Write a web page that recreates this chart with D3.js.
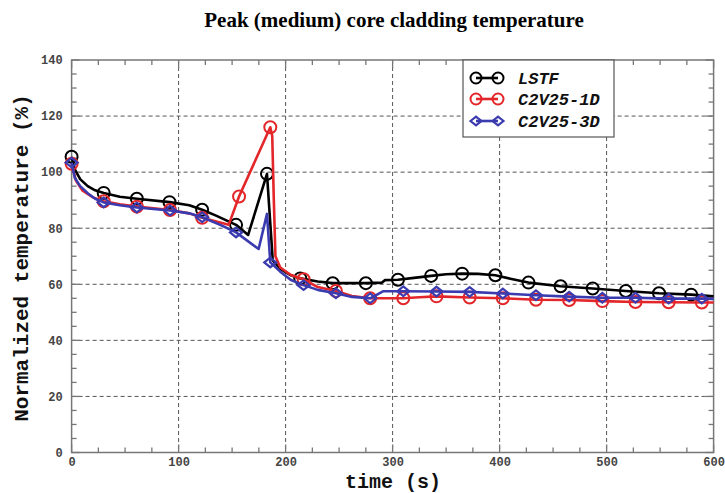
<!DOCTYPE html>
<html><head><meta charset="utf-8">
<script src="https://cdn.jsdelivr.net/npm/d3@7"></script>
<style>body{margin:0;background:#fff}</style>
</head><body>
<svg id="c" width="725" height="493"></svg>
<script>
const xTicks = [0,100,200,300,400,500,600];
const yTicks = [0,20,40,60,80,100,120,140];
const seriesNames = ["LSTF","C2V25-1D","C2V25-3D"];
const seriesColors = ["#000000","#e3262a","#3b3bb0"];
const seriesMarkers = ["circle","circle","diamond"];

const lstfLine = [[0,105.5],[3,101],[8,97.5],[15,95],[22,93.5],[30,92.6],[45,91.2],[61,90.5],[91.5,89.3],[110,88.2],[122,86.6],[135,84.5],[153.7,81.2],[165,77.6],[182.6,99.4],[188,68.5],[195,65.5],[205,63.2],[213.7,62.1],[230,61],[244,60.4],[275,60.4],[290,60.6],[293,61.5],[305,61.6],[320,62.3],[336,63],[350,63.6],[365,63.8],[380,63.7],[396,63.2],[410,62],[427,60.6],[457,59.3],[487,58.5],[518,57.6],[549,56.8],[579,56.3],[600,55.7]];
const lstfMarks = [[0,105.5],[30,92.6],[61,90.5],[91.5,89.3],[122,86.6],[153.7,81.2],[182.6,99.4],[213.7,62.1],[244,60.4],[275,60.4],[305,61.6],[336,63],[365,63.8],[396,63.2],[427,60.6],[457,59.3],[487,58.5],[518,57.6],[549,56.8],[579,56.3]];

const c1dLine = [[0,103],[4,97],[10,93.5],[20,91],[30,89.6],[45,88.5],[61,87.7],[92,86.5],[110,85.3],[122,83.7],[146.8,81.2],[156.5,91.3],[185.7,116],[187.5,113],[189,90],[190.5,70],[195,66],[205,63.3],[216.8,61.8],[230,59],[247,57.6],[262,55.8],[279,55],[310,55],[325,55.4],[341,55.7],[372,55.3],[403,55],[434,54.5],[465,54.4],[496,54],[527,53.7],[558,53.6],[589,53.5],[600,53.5]];
const c1dMarks = [[0,103],[30,89.6],[61,87.7],[92,86.5],[122,83.7],[156.5,91.3],[185.7,116],[216.8,61.8],[247,57.6],[279,55],[310,55],[341,55.7],[372,55.3],[403,55],[434,54.5],[465,54.4],[496,54],[527,53.7],[558,53.6],[589,53.5]];

const c3dLine = [[0,103.4],[3,98],[8,95],[15,92.5],[22,90.5],[30,89.2],[45,88.2],[61,87.4],[92,86.3],[110,85.3],[122,83.9],[140,81],[153.7,78.5],[174.8,72.6],[182.6,85.1],[185.7,67.8],[195,64.5],[205,61.5],[216.8,59.7],[230,58],[247,56.8],[262,55.5],[279,55],[291,57.5],[310,57.5],[341,57.4],[372,57.3],[403,56.7],[434,56.1],[465,55.6],[496,55.2],[527,55.2],[558,54.9],[589,54.9],[600,54.8]];
const c3dMarks = [[0,103.4],[30,89.2],[61,87.4],[92,86.3],[122,83.9],[153.7,78.5],[185.7,67.8],[216.8,59.7],[247,56.8],[279,55],[310,57.5],[341,57.4],[372,57.3],[403,56.7],[434,56.1],[465,55.6],[496,55.2],[527,55.2],[558,54.9],[589,54.9]];

const lines = [lstfLine, c1dLine, c3dLine];
const marks = [lstfMarks, c1dMarks, c3dMarks];

const L=71.6, R=713.6, T=60, B=452.5;
const svg = d3.select("#c");
const x = d3.scaleLinear().domain([0,600]).range([L,R]);
const y = d3.scaleLinear().domain([0,140]).range([B,T]);

// title
svg.append("text").attr("x",394).attr("y",27).attr("text-anchor","middle")
  .attr("font-family","Liberation Serif, serif").attr("font-weight","bold").attr("font-size",21)
  .text("Peak (medium) core cladding temperature");

// grid
const grid = svg.append("g");
xTicks.filter(d=>d>0&&d<600).forEach(d=>grid.append("line").attr("x1",x(d)).attr("x2",x(d)).attr("y1",T).attr("y2",B)
  .attr("stroke","#555").attr("stroke-width",1).attr("stroke-dasharray","4,3"));
yTicks.filter(d=>d>0&&d<140).forEach(d=>grid.append("line").attr("y1",y(d)).attr("y2",y(d)).attr("x1",L).attr("x2",R)
  .attr("stroke","#555").attr("stroke-width",1).attr("stroke-dasharray","4,3"));

// axes
const tickCol="#777";
const fmt = d3.format("d");
const axB = svg.append("g").attr("transform",`translate(0,${B})`).call(d3.axisBottom(x).tickValues(xTicks).tickSize(0).tickPadding(5).tickFormat(fmt));
const axL = svg.append("g").attr("transform",`translate(${L},0)`).call(d3.axisLeft(y).tickValues(yTicks).tickSize(0).tickPadding(9).tickFormat(fmt));
[axB,axL].forEach(a=>{a.select(".domain").remove();
  a.selectAll("text").attr("font-family","Liberation Mono, monospace").attr("font-weight","bold").attr("font-size",12).attr("fill","#444");});
axB.selectAll("text").attr("dy","0.71em");

// frame
svg.append("rect").attr("x",L).attr("y",T).attr("width",R-L).attr("height",B-T).attr("fill","none").attr("stroke",tickCol).attr("stroke-width",1.5);

// inward ticks
const tk = svg.append("g").attr("stroke",tickCol).attr("stroke-width",1.3);
d3.range(0,601,25).forEach(d=>{const len = d%100===0?8:5;
  tk.append("line").attr("x1",x(d)).attr("x2",x(d)).attr("y1",B).attr("y2",B-len);
  tk.append("line").attr("x1",x(d)).attr("x2",x(d)).attr("y1",T).attr("y2",T+len);});
d3.range(0,141,5).forEach(d=>{const len = d%20===0?8:5;
  tk.append("line").attr("y1",y(d)).attr("y2",y(d)).attr("x1",L).attr("x2",L+len);
  tk.append("line").attr("y1",y(d)).attr("y2",y(d)).attr("x1",R).attr("x2",R-len);});

// axis titles
svg.append("text").attr("x",393).attr("y",488).attr("text-anchor","middle")
  .attr("font-family","Liberation Mono, monospace").attr("font-weight","bold").attr("font-size",20).attr("fill","#111")
  .text("time (s)");
svg.append("text").attr("transform","translate(28,258) rotate(-90)").attr("text-anchor","middle")
  .attr("font-family","Liberation Mono, monospace").attr("font-weight","bold").attr("font-size",21).attr("fill","#111")
  .text("Normalized temperature (%)");

// series
const lineGen = d3.line().x(d=>x(d[0])).y(d=>y(d[1]));
function marker(g, type, cx, cy, col, r){
  if(type==="circle") g.append("circle").attr("cx",cx).attr("cy",cy).attr("r",r).attr("fill","none").attr("stroke",col).attr("stroke-width",2);
  else g.append("path").attr("d",`M${cx-r},${cy}L${cx},${cy-r*0.8}L${cx+r},${cy}L${cx},${cy+r*0.8}Z`).attr("fill","none").attr("stroke",col).attr("stroke-width",2.2);
}
[0,1,2].forEach(i=>{
  const g = svg.append("g");
  g.append("path").datum(lines[i]).attr("d",lineGen).attr("fill","none").attr("stroke",seriesColors[i]).attr("stroke-width",2.6).attr("stroke-linejoin","round");
  marks[i].forEach(d=>marker(g, seriesMarkers[i], x(d[0]), y(d[1]), seriesColors[i], 6));
});

// legend
const lg = svg.append("g");
lg.append("rect").attr("x",463).attr("y",T).attr("width",151).attr("height",77).attr("fill","#fff").attr("stroke","#555").attr("stroke-width",1.2);
const ly=[78,99,121];
seriesNames.forEach((n,i)=>{
  lg.append("line").attr("x1",476).attr("x2",498).attr("y1",ly[i]).attr("y2",ly[i]).attr("stroke",seriesColors[i]).attr("stroke-width",2.6);
  marker(lg, seriesMarkers[i], 476, ly[i], seriesColors[i], 5.5);
  marker(lg, seriesMarkers[i], 498, ly[i], seriesColors[i], 5.5);
  lg.append("text").attr("x",518).attr("y",ly[i]).attr("dy","0.35em")
    .attr("font-family","Liberation Mono, monospace").attr("font-weight","bold").attr("font-style","italic").attr("font-size",17).attr("fill","#111")
    .text(n);
});
</script>
</body></html>
